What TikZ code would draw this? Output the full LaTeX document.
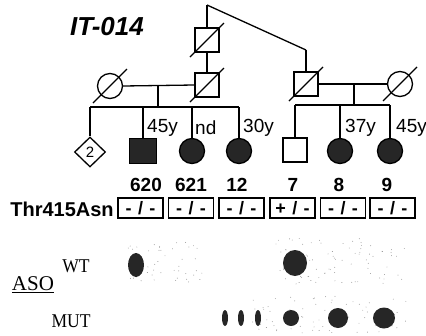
\documentclass[tikz,border=0pt]{standalone}
\usepackage{fontspec}
\setmainfont{Liberation Serif}
\setsansfont{Liberation Sans}
\newfontfamily\narrowserif[FakeStretch=0.9]{Liberation Serif}
\usetikzlibrary{shapes.geometric,calc}
\newcommand{\gsep}{\hspace{0.35em}}
\begin{document}
\begin{tikzpicture}[x=1pt,y=-1pt,
  ln/.style={line width=1.3pt},
  male/.style={draw,line width=1.3pt,rectangle,minimum size=24pt,inner sep=0pt},
  female/.style={draw,line width=1.3pt,circle,minimum size=25pt,inner sep=0pt},
  aff/.style={fill=black!85},
  unk/.style={draw,line width=1.3pt,diamond,minimum width=31pt,minimum height=30pt,inner sep=0pt,font=\sffamily\fontsize{15}{15}\selectfont},
  age/.style={font=\sffamily\fontsize{19}{19}\selectfont,inner sep=0pt},
  idn/.style={font=\sffamily\bfseries\fontsize{19}{19}\selectfont,inner sep=0pt},
  geno/.style={draw,line width=1.3pt,minimum width=45pt,minimum height=20pt,inner sep=0pt,font=\sffamily\bfseries\fontsize{18}{18}\selectfont},
  aso/.style={font=\narrowserif\fontsize{19.5}{19.5}\selectfont,inner sep=0pt},
  dot/.style={fill=black!85,draw=none},
  speck/.style={fill=black!45,draw=none}]
\useasboundingbox (0,0) rectangle (426,335);
% faint blot background speckles
\pgfmathsetseed{7}
\foreach \i in {1,...,45}{
  \pgfmathsetmacro\xx{128+75*rnd}\pgfmathsetmacro\yy{240+42*rnd}
  \fill[speck] (\xx,\yy) circle (0.45);}
\foreach \i in {1,...,90}{
  \pgfmathsetmacro\xx{276+130*rnd}\pgfmathsetmacro\yy{238+46*rnd}
  \fill[speck] (\xx,\yy) circle (0.45);}
\foreach \i in {1,...,70}{
  \pgfmathsetmacro\xx{245+165*rnd}\pgfmathsetmacro\yy{296+38*rnd}
  \fill[speck] (\xx,\yy) circle (0.45);}
% title
\node[font=\sffamily\bfseries\itshape\fontsize{26}{26}\selectfont,inner sep=0pt] (title) at (107,27) {IT-014};
% generation I
\coordinate (top) at (207,5);
\coordinate (topr) at (306,50);
\node[male] (g1) at (207,40) {};
\draw[ln] (top) -- (g1.north);
\draw[ln] (top) -- (topr);
% generation II
\node[male] (g2l) at (207,85) {};
\node[female] (w1) at (110,86) {};
\node[male] (g2r) at (306,84) {};
\node[female] (w2) at (400,84) {};
\draw[ln] (g1.south) -- (g2l.north);
\draw[ln] (topr) -- (g2r.north);
\draw[ln] (w1.east) -- (g2l.west);
\draw[ln] (g2r.east) -- (w2.west);
% deceased slashes
\foreach \n in {g1,g2l,w1,g2r,w2}
  \draw[ln] ($(\n.center)+(-17,17)$) -- ($(\n.center)+(17,-17)$);
% left sibship
\coordinate (m1) at (158,86);
\coordinate (s1) at (158,107);
\draw[ln] (m1) -- (s1);
\node[unk] (c1) at (90,152) {2};
\node[male,aff,minimum width=27pt,minimum height=25pt] (c2) at (143,151) {};
\node[female,aff] (c3) at (192,151) {};
\node[female,aff] (c4) at (239,151) {};
\coordinate (c1t) at (90,107);
\coordinate (c2t) at (143,107);
\coordinate (c3t) at (192,107);
\coordinate (c4t) at (239,107);
\draw[ln] (c1t) -- (c4t);
\draw[ln] (c1t) -- (c1.north);
\draw[ln] (c2t) -- (c2.north);
\draw[ln] (c3t) -- (c3.north);
\draw[ln] (c4t) -- (c4.north);
\node[age,anchor=west] (a2) at (147,128) {45y};
\node[age,anchor=west] (a3) at (195,128) {nd};
\node[age,anchor=west] (a4) at (243,128) {30y};
% right sibship
\coordinate (m2) at (354,84);
\coordinate (s2) at (354,105);
\draw[ln] (m2) -- (s2);
\node[male] (c5) at (295,150) {};
\node[female,aff] (c6) at (340,151) {};
\node[female,aff] (c7) at (390,151) {};
\coordinate (c5t) at (295,105);
\coordinate (c6t) at (340,105);
\coordinate (c7t) at (390,105);
\draw[ln] (c5t) -- (c7t);
\draw[ln] (c5t) -- (c5.north);
\draw[ln] (c6t) -- (c6.north);
\draw[ln] (c7t) -- (c7.north);
\node[age,anchor=west] (a6) at (345,128) {37y};
\node[age,anchor=west] (a7) at (396,128) {45y};
% IDs
\node[idn] (i1) at (146,185) {620};
\node[idn] (i2) at (191,185) {621};
\node[idn] (i3) at (237,185) {12};
\node[idn] (i4) at (293,185) {7};
\node[idn] (i5) at (339,185) {8};
\node[idn] (i6) at (387,185) {9};
% genotypes
\node[font=\sffamily\bfseries\fontsize{20}{20}\selectfont,inner sep=0pt] (mut) at (62,209) {Thr415Asn};
\node[geno] (b1) at (140.5,208) {-\gsep/\gsep-};
\node[geno] (b2) at (191,208) {-\gsep/\gsep-};
\node[geno] (b3) at (241.5,208) {-\gsep/\gsep-};
\node[geno] (b4) at (292.5,208) {+\gsep/\gsep-};
\node[geno] (b5) at (343,208) {-\gsep/\gsep-};
\node[geno] (b6) at (392.5,208) {-\gsep/\gsep-};
% ASO
\node[aso] (wt) at (76,266) {WT};
\node[font=\fontsize{21}{21}\selectfont,inner sep=0pt] (asol) at (33,285) {\underline{ASO}};
\node[aso] (mt) at (71,321) {MUT};
% dots
\fill[dot] (136,265) ellipse (8 and 12);
\fill[dot] (295,263) ellipse (12 and 13);
\fill[dot] (225,318) ellipse (3 and 8);
\fill[dot] (241,318) ellipse (3 and 8);
\fill[dot] (258,318) ellipse (3 and 8);
\fill[dot] (291,318) circle (8);
\fill[dot] (338,318) circle (10);
\fill[dot] (384,318) ellipse (11 and 10.5);
\end{tikzpicture}
\end{document}
